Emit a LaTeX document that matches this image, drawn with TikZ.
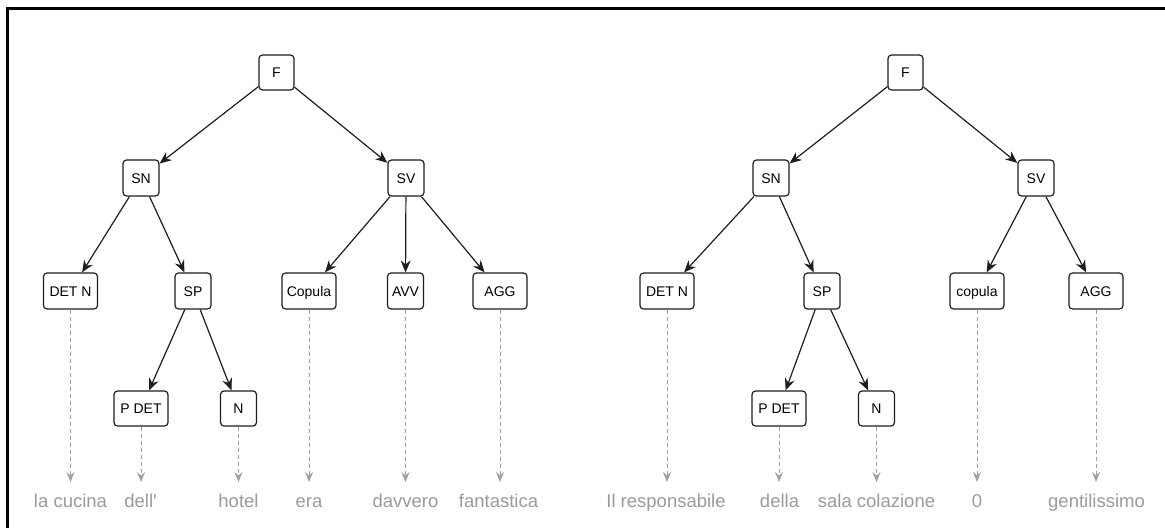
\documentclass[tikz,border=0pt]{standalone}
\usepackage{fontspec}
\setmainfont{Liberation Sans}
\newfontfamily\wordfont{Liberation Sans}[Ligatures=TeXOff]
\usetikzlibrary{arrows.meta}
\definecolor{edgec}{RGB}{30,30,30}
\definecolor{wordc}{RGB}{155,155,155}
\definecolor{dashc}{RGB}{160,160,160}
\tikzset{
  tn/.style={draw=edgec, line width=1.2pt, rounded corners=3.5pt, fill=white,
    inner sep=0pt, minimum height=36pt, text height=10pt, text depth=0pt,
    font=\fontsize{14}{16}\selectfont, text=black},
  wsmall/.style={tn, minimum width=36pt},
  wwide/.style={tn, minimum width=54pt},
  word/.style={inner sep=0pt, anchor=base, text=wordc, font=\wordfont\fontsize{18.5}{20}\selectfont},
  treeedge/.style={draw=edgec, line width=1.2pt, -{Stealth[length=12pt,width=10pt,inset=4pt]}},
  leafedge/.style={draw=dashc, line width=1pt, dash pattern=on 4pt off 3pt,
    -{Stealth[length=10pt,width=8pt,inset=3.5pt,fill=dashc]}},
}
\begin{document}
\begin{tikzpicture}[x=1pt,y=-1pt]
\useasboundingbox (0,0) rectangle (1165,528);
\fill[white] (0,0) rectangle (1165,528);
% frame (top and left only)
\draw[line width=3pt] (5.5,8.5) -- (1165,8.5);
\draw[line width=3pt] (7,7) -- (7,528);

% ---------- Tree 1 ----------
\node[wsmall, minimum width=35pt, minimum height=35pt] (F1) at (276.5,72.5) {F};
\node[wsmall] (SN1) at (141,178) {SN};
\node[wsmall] (SV1) at (406,178) {SV};
\node[wwide] (DETN1) at (70.5,291) {DET N};
\node[wsmall] (SP1) at (193,291) {SP};
\node[wwide] (COP1) at (309,291) {Copula};
\node[wsmall] (AVV1) at (405.5,291) {AVV};
\node[wwide] (AGG1) at (500,291) {AGG};
\node[wwide, minimum height=35pt] (PDET1) at (141,408.5) {P DET};
\node[wsmall, minimum height=35pt] (N1) at (238.5,408.5) {N};

\draw[treeedge] (F1) -- (SN1);
\draw[treeedge] (F1) -- (SV1);
\draw[treeedge] (SN1) -- (DETN1);
\draw[treeedge] (SN1) -- (SP1);
\draw[treeedge] (SV1) -- (COP1);
\draw[treeedge] (SV1) -- (AVV1);
\draw[treeedge] (SV1) -- (AGG1);
\draw[treeedge] (SP1) -- (PDET1);
\draw[treeedge] (SP1) -- (N1);

\node[word] (w1) at (70.5,507) {la cucina};
\node[word] (w2) at (140.5,507) {dell'};
\node[word] (w3) at (238.5,507) {hotel};
\node[word] (w4) at (309,507) {era};
\node[word] (w5) at (405.5,507) {davvero};
\node[word] (w6) at (498.5,507) {fantastica};

\coordinate (e1) at (70.5,482);
\coordinate (e2) at (141,482);
\coordinate (e3) at (238.5,482);
\coordinate (e4) at (309,482);
\coordinate (e5) at (405.5,482);
\coordinate (e6) at (500,482);
\draw[leafedge] (DETN1.south) -- (e1);
\draw[leafedge] (PDET1.south) -- (e2);
\draw[leafedge] (N1.south) -- (e3);
\draw[leafedge] (COP1.south) -- (e4);
\draw[leafedge] (AVV1.south) -- (e5);
\draw[leafedge] (AGG1.south) -- (e6);

% ---------- Tree 2 ----------
\node[wsmall, minimum width=35pt, minimum height=35pt] (F2) at (905.5,72.5) {F};
\node[wsmall] (SN2) at (771,178) {SN};
\node[wsmall] (SV2) at (1036,178) {SV};
\node[wwide] (DETN2) at (667,291) {DET N};
\node[wsmall] (SP2) at (822,291) {SP};
\node[wwide] (COP2) at (977,291) {copula};
\node[wwide] (AGG2) at (1096,291) {AGG};
\node[wwide, minimum height=35pt] (PDET2) at (779,408.5) {P DET};
\node[wsmall, minimum height=35pt] (N2) at (876.5,408.5) {N};

\draw[treeedge] (F2) -- (SN2);
\draw[treeedge] (F2) -- (SV2);
\draw[treeedge] (SN2) -- (DETN2);
\draw[treeedge] (SN2) -- (SP2);
\draw[treeedge] (SV2) -- (COP2);
\draw[treeedge] (SV2) -- (AGG2);
\draw[treeedge] (SP2) -- (PDET2);
\draw[treeedge] (SP2) -- (N2);

\node[word] (v1) at (666,507) {Il responsabile};
\node[word] (v2) at (779.5,507) {della};
\node[word] (v3) at (876.5,507) {sala colazione};
\node[word] (v4) at (977,507) {0};
\node[word] (v5) at (1096.5,507) {gentilissimo};

\coordinate (f1) at (667,482);
\coordinate (f2) at (779,482);
\coordinate (f3) at (876.5,482);
\coordinate (f4) at (977,482);
\coordinate (f5) at (1096,482);
\draw[leafedge] (DETN2.south) -- (f1);
\draw[leafedge] (PDET2.south) -- (f2);
\draw[leafedge] (N2.south) -- (f3);
\draw[leafedge] (COP2.south) -- (f4);
\draw[leafedge] (AGG2.south) -- (f5);
\end{tikzpicture}
\end{document}
